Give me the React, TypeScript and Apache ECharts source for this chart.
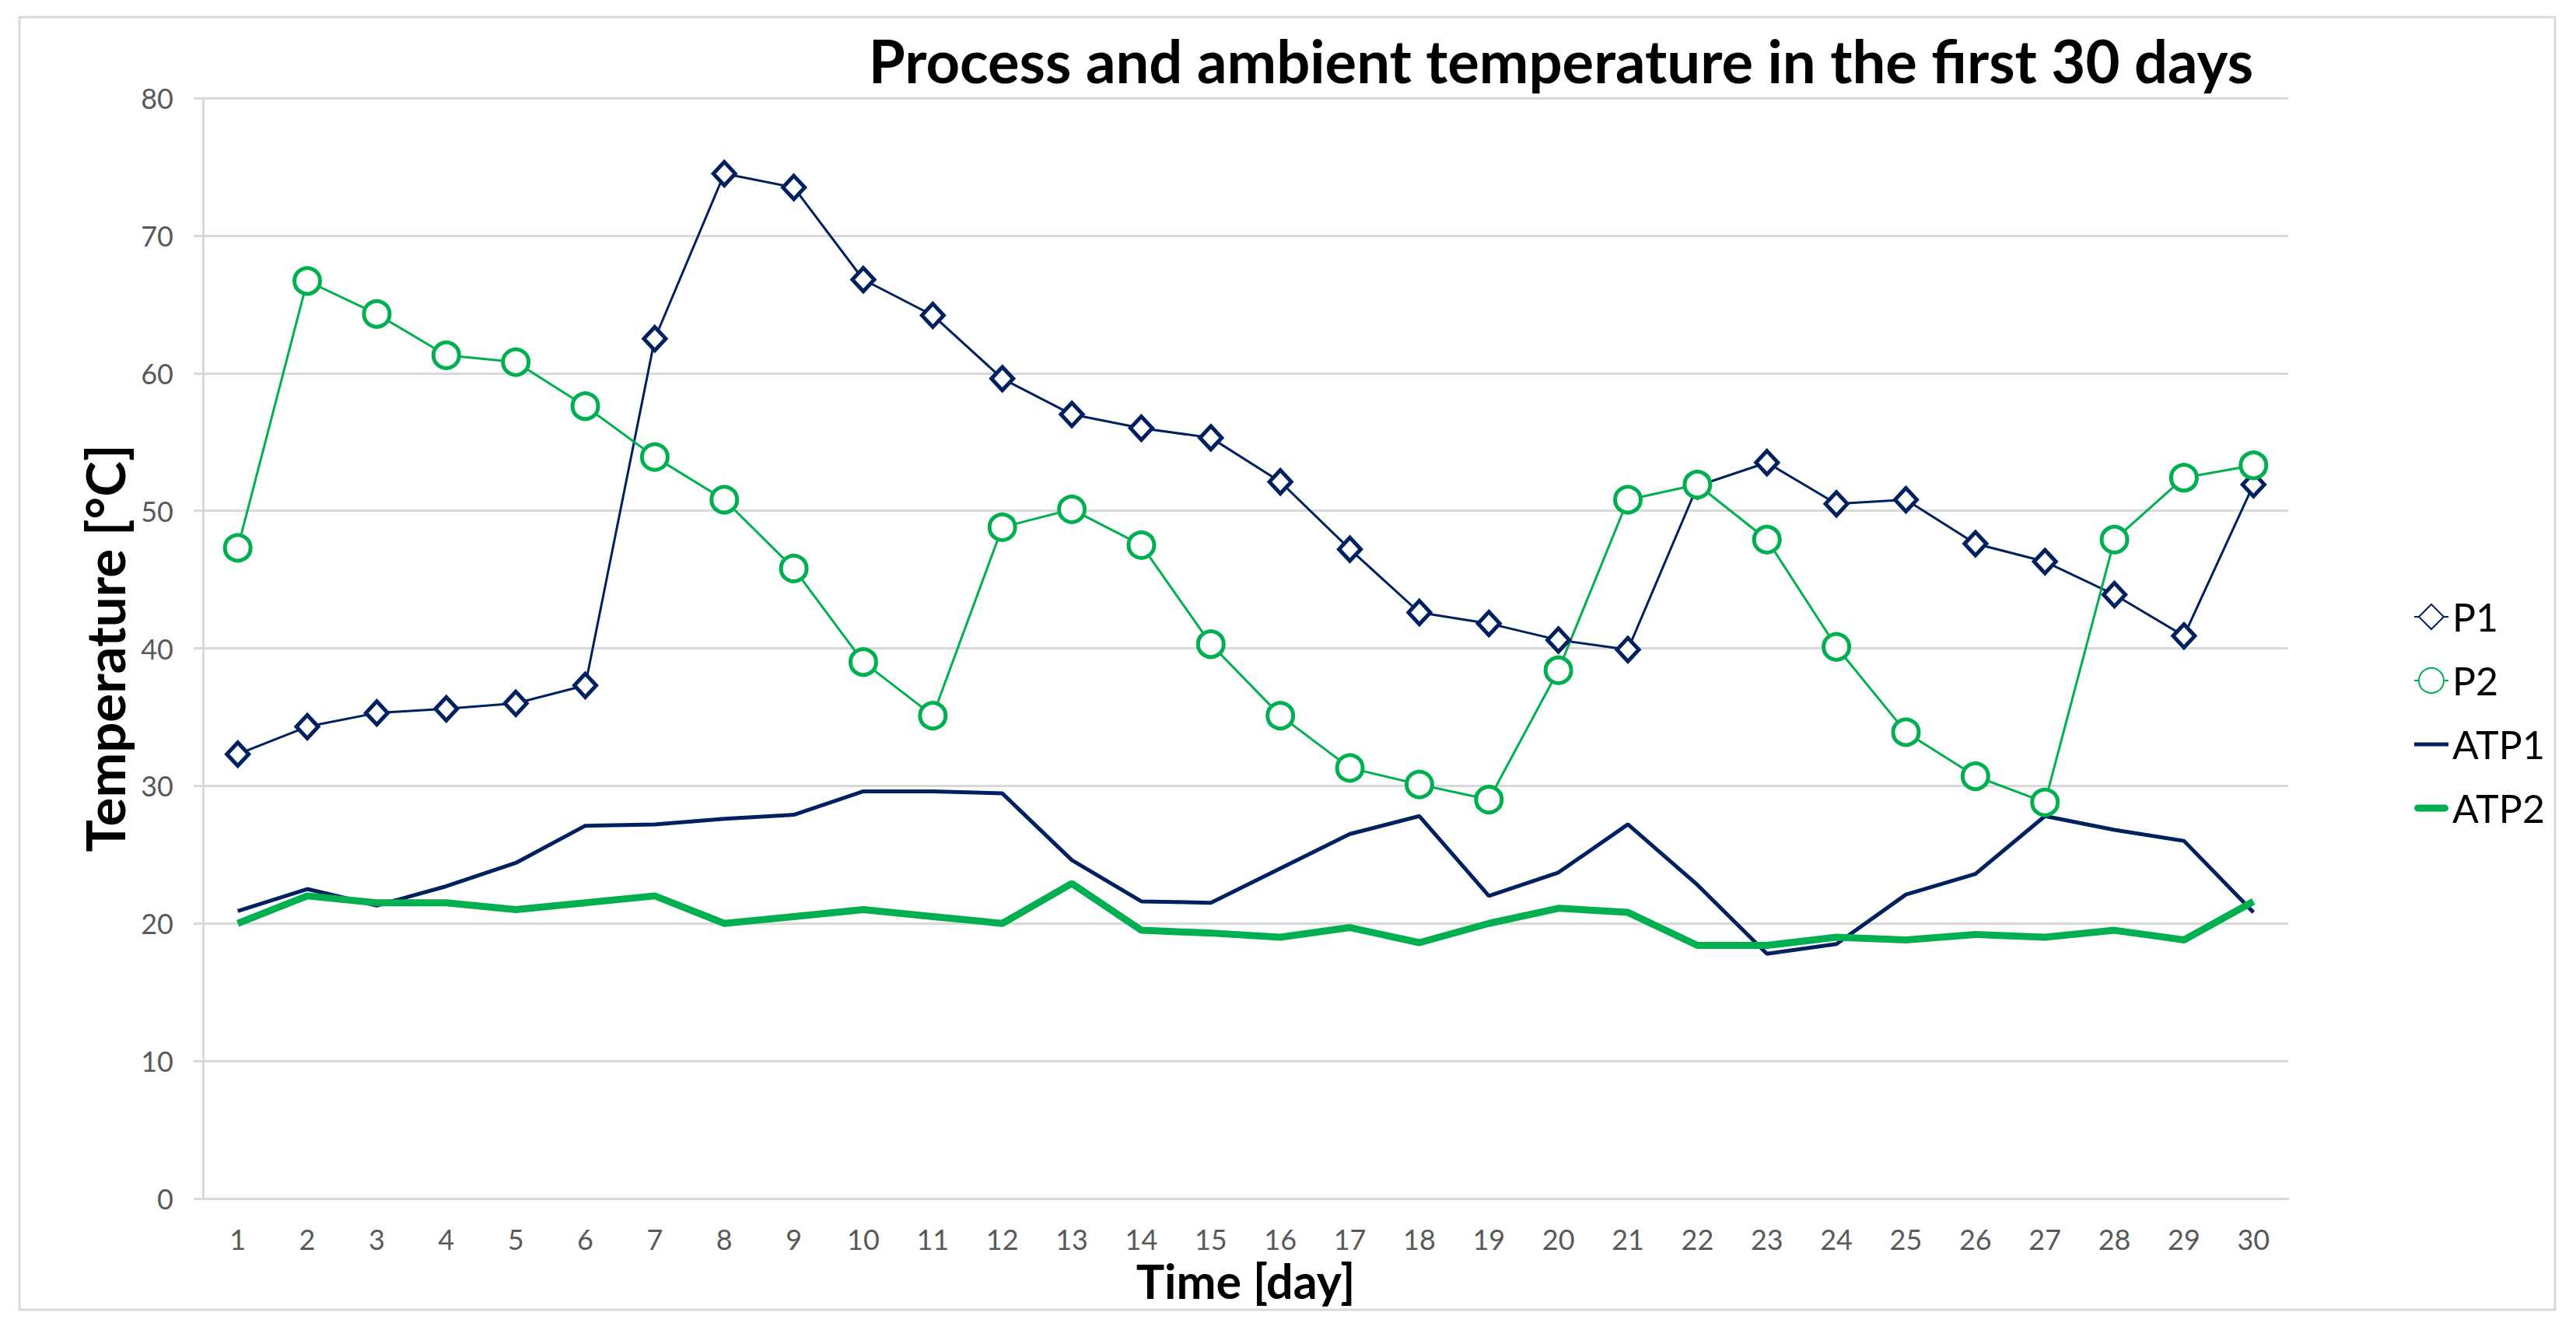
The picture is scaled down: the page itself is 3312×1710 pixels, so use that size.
import React, { useEffect, useRef } from "react";
import * as echarts from "echarts";

const days = Array.from({ length: 30 }, (_, i) => String(i + 1));

const P1 = [32.3, 34.3, 35.3, 35.6, 36.0, 37.3, 62.5, 74.5, 73.5, 66.8, 64.2, 59.6, 57.0, 56.0, 55.3, 52.1, 47.2, 42.6, 41.8, 40.6, 39.9, 51.8, 53.5, 50.5, 50.8, 47.6, 46.3, 43.9, 40.9, 51.9];
const P2 = [47.3, 66.7, 64.3, 61.3, 60.8, 57.6, 53.9, 50.8, 45.8, 39.0, 35.1, 48.8, 50.1, 47.5, 40.3, 35.1, 31.3, 30.1, 29.0, 38.4, 50.8, 51.9, 47.9, 40.1, 33.9, 30.7, 28.8, 47.9, 52.4, 53.3];
const ATP1 = [20.9, 22.5, 21.3, 22.7, 24.4, 27.1, 27.2, 27.6, 27.9, 29.6, 29.6, 29.45, 24.6, 21.6, 21.5, 24.0, 26.5, 27.8, 22.0, 23.7, 27.2, 22.8, 17.8, 18.5, 22.1, 23.6, 27.8, 26.8, 26.0, 20.8];
const ATP2 = [20.0, 22.0, 21.5, 21.5, 21.0, 21.5, 22.0, 20.0, 20.5, 21.0, 20.5, 20.0, 22.9, 19.5, 19.3, 19.0, 19.7, 18.6, 20.0, 21.1, 20.8, 18.4, 18.4, 19.0, 18.8, 19.2, 19.0, 19.5, 18.8, 21.6];

const NAVY = "#002060";
const GREEN = "#00B050";
const GRID = "#d9d9d9";
const FONT = "Lato";

export default function App() {
  const ref = useRef<HTMLDivElement>(null);
  useEffect(() => {
    if (!ref.current) return;
    const chart = echarts.init(ref.current, null, { renderer: "svg" });
    chart.setOption({
      animation: false,
      backgroundColor: "#ffffff",
      textStyle: { fontFamily: FONT },
      title: {
        text: "Process and ambient temperature in the first 30 days",
        left: 2002,
        top: 34,
        textAlign: "center",
        textStyle: { fontFamily: FONT, fontSize: 76, fontWeight: "bold", color: "#000" },
      },
      grid: { left: 261, right: 370, top: 126, bottom: 169 },
      legend: {
        orient: "vertical",
        left: 3098,
        top: 762,
        itemWidth: 44,
        itemHeight: 40,
        itemGap: 30,
        textStyle: { fontFamily: FONT, fontSize: 50, color: "#000", lineHeight: 52 },
        data: [
          { name: "P1" },
          { name: "P2" },
          { name: "ATP1", icon: "path://M0,0H44V5H0Z" },
          { name: "ATP2", icon: "path://M4,0H40A4,4,0,0,1,40,9H4A4,4,0,0,1,4,0Z" },
        ],
      },
      xAxis: {
        type: "category",
        data: days,
        boundaryGap: true,
        axisLine: { lineStyle: { color: GRID, width: 3 } },
        axisTick: { show: false },
        axisLabel: { fontFamily: FONT, fontSize: 36, color: "#595959", margin: 34, interval: 0 },
        name: "Time [day]",
        nameLocation: "middle",
        nameGap: 66,
        nameTextStyle: { fontFamily: FONT, fontSize: 61, fontWeight: "bold", color: "#000" },
      },
      yAxis: {
        type: "value",
        min: 0,
        max: 80,
        interval: 10,
        axisLine: { show: true, lineStyle: { color: GRID, width: 3 } },
        axisTick: { show: true, length: 12, lineStyle: { color: GRID, width: 3 } },
        splitLine: { lineStyle: { color: GRID, width: 3 } },
        axisLabel: { fontFamily: FONT, fontSize: 36, color: "#595959", margin: 38 },
        name: "Temperature [°C]",
        nameLocation: "middle",
        nameGap: 92,
        nameTextStyle: { fontFamily: FONT, fontSize: 69, fontWeight: "bold", color: "#000" },
      },
      graphic: [
        {
          type: "rect",
          z: -10,
          shape: { x: 25, y: 22, width: 3260, height: 1662 },
          style: { fill: "none", stroke: GRID, lineWidth: 3 },
        },
      ],
      series: [
        {
          name: "P1",
          type: "line",
          data: P1,
          symbol: "diamond",
          symbolSize: [28, 30],
          lineStyle: { color: NAVY, width: 3 },
          itemStyle: { color: "#ffffff", borderColor: NAVY, borderWidth: 5 },
          emphasis: { disabled: true },
        },
        {
          name: "P2",
          type: "line",
          data: P2,
          symbol: "circle",
          symbolSize: 33,
          lineStyle: { color: GREEN, width: 3 },
          itemStyle: { color: "#ffffff", borderColor: GREEN, borderWidth: 5 },
          emphasis: { disabled: true },
        },
        {
          name: "ATP1",
          type: "line",
          data: ATP1,
          symbol: "none",
          lineStyle: { color: NAVY, width: 5 },
          itemStyle: { color: NAVY },
          emphasis: { disabled: true },
        },
        {
          name: "ATP2",
          type: "line",
          data: ATP2,
          symbol: "none",
          lineStyle: { color: GREEN, width: 9 },
          itemStyle: { color: GREEN },
          emphasis: { disabled: true },
        },
      ],
    });
    return () => chart.dispose();
  }, []);
  return (
    <div
      ref={ref}
      style={{ position: "fixed", left: 0, top: 0, width: "3312px", height: "1710px" }}
    />
  );
}
